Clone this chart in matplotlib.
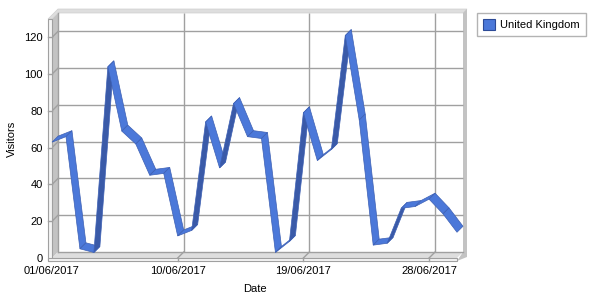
import matplotlib
matplotlib.use('Agg')
import matplotlib.pyplot as plt
from matplotlib.patches import Polygon, Patch
import numpy as np

# ---- data ----
dates = ['01/06/2017', '02/06/2017', '03/06/2017', '04/06/2017', '05/06/2017',
         '06/06/2017', '07/06/2017', '08/06/2017', '09/06/2017', '10/06/2017',
         '11/06/2017', '12/06/2017', '13/06/2017', '14/06/2017', '15/06/2017',
         '16/06/2017', '17/06/2017', '18/06/2017', '19/06/2017', '20/06/2017',
         '21/06/2017', '22/06/2017', '23/06/2017', '24/06/2017', '25/06/2017',
         '26/06/2017', '27/06/2017', '28/06/2017', '29/06/2017', '30/06/2017']
visitors = [63, 66, 5, 3, 104, 69, 62, 45, 46, 12,
            15, 74, 49, 84, 66, 65, 3, 9, 79, 53,
            59, 121, 75, 7, 8, 27, 28, 32, 24, 14]
x_tick_labels = ['01/06/2017', '10/06/2017', '19/06/2017', '28/06/2017']
y_ticks = [0, 20, 40, 60, 80, 100, 120]
series_name = 'United Kingdom'

FONT = 'Liberation Sans'
plt.rcParams['font.family'] = [FONT, 'DejaVu Sans']
plt.rcParams['font.size'] = 8

LIGHT = '#4b78d9'
DARK = '#3a5aa8'
EDGE = '#3d60b4'
GRID = '#a0a0a0'
WALL = '#c3c3c3'
FLOOR = '#dedede'

fig = plt.figure(figsize=(6, 3), dpi=100)
fig.patch.set_facecolor('white')
ax = fig.add_axes([52 / 600, 42 / 300, 405 / 600, 239 / 300])
ax.patch.set_visible(False)
x = np.arange(len(dates))
xmax = len(dates) - 1
ymax = 130
ax.set_xlim(0, xmax)
ax.set_ylim(0, ymax)
for s in ax.spines.values():
    s.set_visible(False)

fig.canvas.draw()


def px_to_data(dxp, dyp):
    p0 = ax.transData.transform((0, 0))
    p1 = ax.transData.inverted().transform((p0[0] + dxp, p0[1] + dyp))
    return p1[0], p1[1]


ddx, ddy = px_to_data(6, 6)     # depth of the 3D box
tx, ty = px_to_data(4, 3)       # front slab thickness
sx, sy = px_to_data(4, 4)       # back wall thickness


def poly(pts, fc, ec='none', lw=0.0, z=1):
    p = Polygon(pts, closed=True, facecolor=fc, edgecolor=ec, linewidth=lw,
                zorder=z, clip_on=False, joinstyle='miter')
    ax.add_patch(p)


# back wall
poly([(ddx, ddy), (xmax + ddx, ddy), (xmax + ddx, ymax + ddy), (ddx, ymax + ddy)], 'white', z=1)
# left wall side
poly([(0, 0), (0, ymax), (ddx, ymax + ddy), (ddx, ddy)], WALL, z=1)
# floor
poly([(0, 0), (xmax, 0), (xmax + ddx, ddy), (ddx, ddy)], FLOOR, z=1)
# top face of walls
poly([(-tx, ymax), (0, ymax), (ddx, ymax + ddy), (xmax + ddx, ymax + ddy),
      (xmax + ddx + sx, ymax + ddy + sy), (ddx - tx + sx, ymax + ddy + sy)],
     FLOOR, ec='#cfcfcf', lw=0.5, z=1)
# right face of back wall
poly([(xmax + ddx, ddy), (xmax + ddx, ymax + ddy), (xmax + ddx + sx, ymax + ddy + sy),
      (xmax + ddx + sx, ddy + sy - ty - ddy), (xmax, -ty)], WALL, z=1)

# grid lines (back wall + wall/floor diagonals + front ticks)
for yv in y_ticks[1:]:
    ax.plot([ddx, xmax + ddx], [yv + ddy, yv + ddy], color=GRID, lw=1, zorder=2,
            clip_on=False, solid_capstyle='butt')
    ax.plot([0, ddx], [yv, yv + ddy], color=GRID, lw=1, zorder=2, clip_on=False)
ax.plot([ddx, xmax + ddx], [ddy, ddy], color=GRID, lw=1, zorder=2, clip_on=False)
ax.plot([ddx, ddx], [ddy, ymax + ddy], color=GRID, lw=1, zorder=2, clip_on=False)
tick_pos = [dates.index(t) for t in x_tick_labels]
for xv in tick_pos[1:]:
    ax.plot([xv + ddx, xv + ddx], [ddy, ymax + ddy], color=GRID, lw=1, zorder=2,
            clip_on=False, solid_capstyle='butt')
    ax.plot([xv, xv + ddx], [0, ddy], color=GRID, lw=1, zorder=2, clip_on=False)

# front slabs (left + bottom strips)
poly([(-tx, -ty), (0, -ty), (0, ymax), (-tx, ymax)], '#f4f4f4', ec=GRID, lw=0.8, z=3)
poly([(-tx, -ty), (xmax, -ty), (xmax, 0), (-tx, 0)], '#f4f4f4', ec=GRID, lw=0.8, z=3)
for yv in y_ticks[1:]:
    ax.plot([-tx, 0], [yv, yv], color=GRID, lw=1, zorder=4, clip_on=False)
for xv in tick_pos[1:]:
    ax.plot([xv, xv], [0, -ty], color=GRID, lw=1, zorder=4, clip_on=False)

# ribbon
for i in range(len(x) - 1):
    x0, y0, x1, y1 = x[i], visitors[i], x[i + 1], visitors[i + 1]
    a = ax.transData.transform((x0, y0))
    b = ax.transData.transform((x1, y1))
    steep = (b[1] - a[1]) > (b[0] - a[0])
    col = DARK if steep else LIGHT
    poly([(x0, y0), (x1, y1), (x1 + ddx, y1 + ddy), (x0 + ddx, y0 + ddy)],
         col, ec=EDGE, lw=0.5, z=5 + i * 0.01)

# ticks & labels
ax.set_xticks(tick_pos, x_tick_labels)
ax.set_yticks(y_ticks)
ax.tick_params(axis='x', length=0, pad=5.5, labelsize=8)
ax.tick_params(axis='y', length=0, pad=6.5, labelsize=8)
ax.set_xlabel('Date', fontsize=8, labelpad=6)
ax.set_ylabel('Visitors', fontsize=8, labelpad=5)

# legend
handle = Patch(facecolor=LIGHT, edgecolor='#2c4a96', linewidth=0.8, label=series_name)
leg = fig.legend(handles=[handle], loc='upper left', bbox_to_anchor=(477 / 600, 1 - 13 / 300),
                 frameon=True, fancybox=False, borderpad=0.55, handlelength=1.1,
                 handleheight=1.1, handletextpad=0.45, fontsize=8, borderaxespad=0)
leg.get_frame().set_edgecolor(GRID)
leg.get_frame().set_linewidth(1)

fig.savefig('out.png', dpi=100)
